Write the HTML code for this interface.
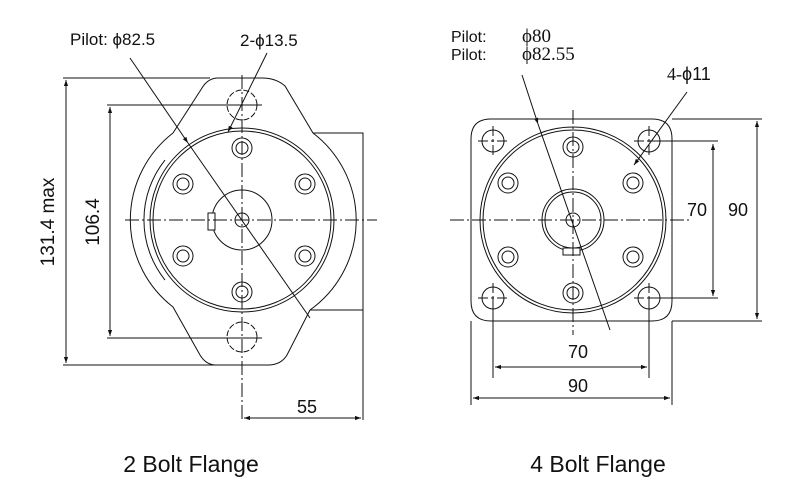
<!DOCTYPE html>
<html><head><meta charset="utf-8"><style>
html,body{margin:0;padding:0;background:#fff;}
svg{display:block}
text{font-family:"Liberation Sans",sans-serif;fill:#111}
.s{font-family:"Liberation Serif",serif}
</style></head><body>
<svg width="800" height="500" viewBox="0 0 800 500" xmlns="http://www.w3.org/2000/svg">
<defs>
<marker id="a" viewBox="0 0 10 10" refX="10" refY="5" markerWidth="9" markerHeight="6" orient="auto-start-reverse" markerUnits="userSpaceOnUse"><path d="M0,1.5 L10,5 L0,8.5 Z" fill="#111"/></marker>
</defs>
<g fill="none" stroke="#111" stroke-width="1">
<!-- LEFT -->
<path d="M173,133 L202,88 Q208,78 218,78 L262,78 Q276,78 285,86 L313,133 A110,110 0 0 1 310,310 L287,355 Q281,365 268,365 L216,365 Q206,365 200,355 L173,307 A110,110 0 0 1 173,133 Z"/>
<path d="M313,133 H363 V310 H310"/>
<path d="M165,160 A96,96 0 0 0 165,280"/>
<circle cx="242" cy="220" r="92"/>
<circle cx="242" cy="220" r="89"/>
<circle cx="242" cy="220" r="30"/>
<circle cx="242" cy="220" r="7"/>
<rect x="208" y="213" width="7" height="17" fill="#fff"/>
<g>
<circle cx="242" cy="148" r="10"/><circle cx="242" cy="148" r="6"/>
<circle cx="183" cy="184" r="10"/><circle cx="183" cy="184" r="6"/>
<circle cx="305" cy="184" r="10"/><circle cx="305" cy="184" r="6"/>
<circle cx="183" cy="256" r="10"/><circle cx="183" cy="256" r="6"/>
<circle cx="305" cy="256" r="10"/><circle cx="305" cy="256" r="6"/>
<circle cx="242" cy="292" r="10"/><circle cx="242" cy="292" r="6"/>
</g>
<circle cx="242" cy="105" r="15" stroke-dasharray="6,2"/>
<circle cx="242" cy="337" r="15" stroke-dasharray="6,2"/>
<path d="M242,75 V420" stroke-dasharray="14,3,2,3"/>
<path d="M125,220 H377" stroke-dasharray="14,3,2,3"/>
<path d="M63,78 H210 M63,365 H270 M107,105 H262 M107,338 H262 M363,310 V420"/>
<path d="M66,80 V363" marker-start="url(#a)" marker-end="url(#a)"/>
<path d="M110,107 V336" marker-start="url(#a)" marker-end="url(#a)"/>
<path d="M244,418 H361" marker-start="url(#a)" marker-end="url(#a)"/>
<path d="M130,58 L188,143" marker-end="url(#a)"/>
<path d="M188,143 L310,318"/>
<path d="M267,53 L228,132" marker-end="url(#a)"/>
<!-- RIGHT -->
<path d="M491,119 H652 Q672,119 672,139 V301 Q672,321 652,321 H491 Q471,321 471,301 V139 Q471,119 491,119 Z"/>
<circle cx="573" cy="220" r="93"/>
<circle cx="573" cy="220" r="90"/>
<circle cx="573" cy="220" r="31"/>
<circle cx="573" cy="220" r="28"/>
<circle cx="573" cy="220" r="7"/>
<rect x="563" y="248" width="17" height="7" fill="#fff"/>
<g>
<circle cx="573" cy="147" r="10"/><circle cx="573" cy="147" r="6"/>
<circle cx="508" cy="183" r="10"/><circle cx="508" cy="183" r="6"/>
<circle cx="633" cy="183" r="10"/><circle cx="633" cy="183" r="6"/>
<circle cx="508" cy="257" r="10"/><circle cx="508" cy="257" r="6"/>
<circle cx="633" cy="257" r="10"/><circle cx="633" cy="257" r="6"/>
<circle cx="573" cy="293" r="10"/><circle cx="573" cy="293" r="6"/>
</g>
<circle cx="493" cy="141" r="11"/><circle cx="649" cy="141" r="11"/>
<circle cx="493" cy="298" r="11"/><circle cx="649" cy="298" r="11"/>
<path d="M478,141 H510 M493,126 V158 M634,141 H650 M649,126 V158 M478,298 H510 M493,283 V298 M634,298 H650 M649,283 V298" stroke-dasharray="10,3,3,3"/>
<path d="M650,141 H718 M650,298 H718 M493,298 V378 M649,298 V378"/>
<path d="M672,321 V405 M471,321 V405 M672,119 H762 M672,321 H762"/>
<path d="M450,220 H690" stroke-dasharray="14,3,2,3"/>
<path d="M573,110 V335" stroke-dasharray="14,3,2,3"/>
<path d="M713,144 V296" marker-start="url(#a)" marker-end="url(#a)"/>
<path d="M757,121 V319" marker-start="url(#a)" marker-end="url(#a)"/>
<path d="M495,367 H647" marker-start="url(#a)" marker-end="url(#a)"/>
<path d="M473,398 H670" marker-start="url(#a)" marker-end="url(#a)"/>
<path d="M522,75 L538,124" marker-end="url(#a)"/>
<path d="M538,124 L610,330"/>
<path d="M687,92 L634,165" marker-end="url(#a)"/>
</g>
<text x="70" y="45" font-size="17">Pilot: ϕ82.5</text>
<text x="240" y="46" font-size="17">2-ϕ13.5</text>
<text x="0" y="0" font-size="19" transform="translate(54,222) rotate(-90)" text-anchor="middle">131.4 max</text>
<text x="0" y="0" font-size="19" transform="translate(99,222) rotate(-90)" text-anchor="middle">106.4</text>
<text x="307" y="413" font-size="18" text-anchor="middle">55</text>
<text x="451" y="42" font-size="16">Pilot:</text><text x="522" y="42" font-size="19" class="s">ϕ80</text>
<text x="451" y="60" font-size="16">Pilot:</text><text x="522" y="60" font-size="19" class="s">ϕ82.55</text>
<text x="667" y="80" font-size="18"><tspan class="s">4-</tspan>ϕ11</text>
<text x="697" y="216" font-size="18" text-anchor="middle">70</text>
<text x="738" y="216" font-size="18" text-anchor="middle">90</text>
<text x="578" y="358" font-size="18" text-anchor="middle">70</text>
<text x="578" y="392" font-size="18" text-anchor="middle">90</text>
<text x="191" y="472" font-size="23" text-anchor="middle">2 Bolt Flange</text>
<text x="598" y="472" font-size="23" text-anchor="middle">4 Bolt Flange</text>
</svg>
</body></html>
